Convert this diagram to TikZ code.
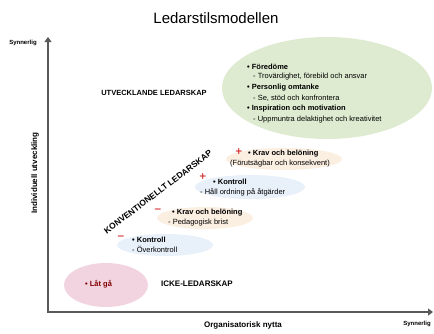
\documentclass[tikz,border=0pt]{standalone}
\usepackage{fontspec}
\setmainfont{Liberation Sans}
\usetikzlibrary{arrows.meta}
\definecolor{ulgreen}{RGB}{222,235,208}
\definecolor{ickepink}{RGB}{242,212,225}
\definecolor{krpeach}{RGB}{250,232,214}
\definecolor{kblue}{RGB}{222,233,246}

\begin{document}
\begin{tikzpicture}[x=1pt,y=-1pt,
    axis/.style={draw=black!65, line width=2.2pt},
    note/.style={anchor=west, inner sep=0pt, font=\fontsize{7.5}{9}\selectfont},
    bullet/.style={note, font=\fontsize{7.5}{9}\selectfont\bfseries},
    caps/.style={inner sep=0pt, font=\fontsize{7.5}{9}\selectfont\bfseries},
    sign/.style={inner sep=0pt, text=red!80!black, font=\fontsize{12}{12}\selectfont},
    axislabel/.style={inner sep=0pt, font=\fontsize{6}{7}\selectfont\bfseries}]
    \useasboundingbox (0,0) rectangle (434,333);

    % soft background shapes
    \fill[ulgreen] (327,88) ellipse [x radius=105pt, y radius=51pt];
    \fill[ickepink] (106,285) ellipse [x radius=42pt, y radius=22pt];
    \fill[krpeach, opacity=.7] (284,159) ellipse [x radius=58pt, y radius=11pt];
    \fill[kblue, opacity=.7] (250,187) ellipse [x radius=55pt, y radius=12pt];
    \fill[krpeach, opacity=.7] (205,218) ellipse [x radius=48pt, y radius=11pt];
    \fill[kblue, opacity=.7] (165,245) ellipse [x radius=48pt, y radius=11pt];

    \node (title) at (216,18) {\fontsize{15}{15}\selectfont Ledarstilsmodellen};

    % axes
    \coordinate (ytop) at (48,37);
    \coordinate (origin) at (48,312);
    \coordinate (xend) at (433,312);
    \draw[axis, {Triangle[length=5pt,width=7pt]}-{Triangle[length=5pt,width=7pt]}] (ytop) -- (origin) -- (xend);
    \node[axislabel] (ymax) at (23,43) {Synnerlig};
    \node[axislabel] (xmax) at (417,324) {Synnerlig};
    \node[axislabel, font=\fontsize{8}{9}\selectfont\bfseries, rotate=90] (ylab) at (35,173) {Individuell utveckling};
    \node[axislabel, font=\fontsize{8}{9}\selectfont\bfseries] (xlab) at (243,325) {Organisatorisk nytta};

    % utvecklande ledarskap
    \node[caps] (utv) at (154,93) {UTVECKLANDE LEDARSKAP};
    \node[bullet] (ul1) at (247,67) {\textbullet\ Föredöme};
    \node[note] (ul1s) at (253,77) {- Trovärdighet, förebild och ansvar};
    \node[bullet] (ul2) at (247,88) {\textbullet\ Personlig omtanke};
    \node[note] (ul2s) at (253,98) {- Se, stöd och konfrontera};
    \node[bullet] (ul3) at (247,109) {\textbullet\ Inspiration och motivation};
    \node[note] (ul3s) at (253,120) {- Uppmuntra delaktighet och kreativitet};

    % konventionellt ledarskap
    \node[caps, font=\fontsize{8.5}{9}\selectfont\bfseries, rotate=37] (konv) at (158,192) {KONVENTIONELLT LEDARSKAP};
    \node[sign] (p1) at (239,152) {+};
    \node[bullet] (kb1) at (248,154) {\textbullet\ Krav och belöning};
    \node[note] (kb1s) at (230,164) {(Förutsägbar och konsekvent)};
    \node[sign] (p2) at (203,177) {+};
    \node[bullet] (k1) at (213,182) {\textbullet\ Kontroll};
    \node[note] (k1s) at (200,192) {- Håll ordning på åtgärder};
    \node[sign] (m1) at (158,211) {−};
    \node[bullet] (kb2) at (172,213) {\textbullet\ Krav och belöning};
    \node[note] (kb2s) at (168,223) {- Pedagogisk brist};
    \node[sign] (m2) at (121,238) {−};
    \node[bullet] (k2) at (132,240) {\textbullet\ Kontroll};
    \node[note] (k2s) at (132,249) {- Överkontroll};

    % icke-ledarskap
    \node[bullet, text=red!50!black] (lg) at (85,284) {\textbullet\ Låt gå};
    \node[caps, font=\fontsize{8}{9}\selectfont\bfseries] (icke) at (197,284) {ICKE-LEDARSKAP};
\end{tikzpicture}
\end{document}
